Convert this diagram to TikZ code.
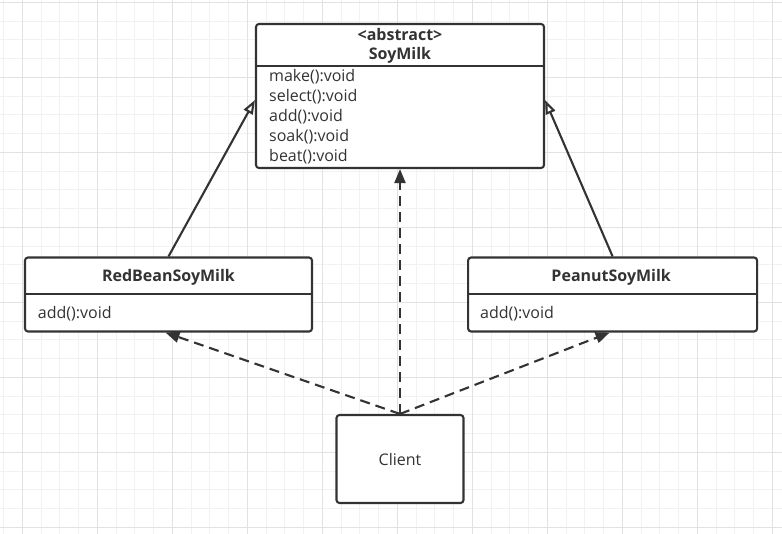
\documentclass[tikz,border=0pt]{standalone}
\usepackage{fontspec}
\setmainfont{Open Sans}
\usepackage{tikz}
\usetikzlibrary{arrows.meta}
\usetikzlibrary{positioning}
\definecolor{ink}{HTML}{333333}
\definecolor{minorgrid}{HTML}{F2F2F2}
\definecolor{majorgrid}{HTML}{E2E2E2}

\begin{document}
\begin{tikzpicture}[x=1pt, y=1pt, font=\fontsize{16}{20}\selectfont, text=ink]
	\tikzstyle{cls}=[rectangle, rounded corners=3pt, line width=2.1pt, draw=ink, fill=white, inner sep=0pt]
	\tikzstyle{title}=[font=\fontsize{16}{19.3}\selectfont\bfseries, align=center, inner sep=0pt]
	\tikzstyle{members}=[anchor=west, align=left, inner sep=0pt]
	\tikzstyle{inherit}=[-{Triangle[open, length=14pt, width=10pt]}, line width=2.1pt, draw=ink, fill=white]
	\tikzstyle{depend}=[-{Triangle[length=14pt, width=11pt]}, line width=2.1pt, draw=ink, dash pattern=on 10pt off 6pt]
	
	\useasboundingbox[fill=white] (0,0) rectangle (782,-534);
	\draw[minorgrid, line width=1pt, step=18.75, shift={(3.55,-2.3)}] (-3.55,2.3) grid (778.45,-531.7);
	\draw[majorgrid, line width=1pt, step=75, shift={(22.3,-2.3)}] (-22.3,2.3) grid (759.7,-531.7);
	
	\node[cls, minimum width=288pt, minimum height=144pt] (soy) at (400,-96) {};
	\node[title] (soytitle) at (400,-45.5) {<abstract>\\SoyMilk};
	\node[members] (soyops) at (269,-116.7) {make():void\\select():void\\add():void\\soak():void\\beat():void};
	\coordinate (soysep) at (400,-66);
	
	\node[cls, minimum width=287pt, minimum height=74pt] (red) at (168.5,-294.5) {};
	\node[title] (redtitle) at (168.5,-277.3) {RedBeanSoyMilk};
	\node[members] (redops) at (37.7,-313.3) {add():void};
	\coordinate (redsep) at (168.5,-294.3);
	
	\node[cls, minimum width=289pt, minimum height=74pt] (peanut) [right=154pt of red] {};
	\node[title] (peanuttitle) at (611.2,-277.3) {PeanutSoyMilk};
	\node[members] (peanutops) at (480,-313.3) {add():void};
	\coordinate (peanutsep) at (611.2,-294.3);
	
	\node[cls, minimum width=127pt, minimum height=88pt] (client) at (400,-459) {Client};
	
	\draw[ink, line width=2.1pt] (soy.west |- soysep) -- (soy.east |- soysep);
	\draw[ink, line width=2.1pt] (red.west |- redsep) -- (red.east |- redsep);
	\draw[ink, line width=2.1pt] (peanut.west |- peanutsep) -- (peanut.east |- peanutsep);
	
	\path (red.north) edge [inherit] ([yshift=-4pt]soy.west)
	(peanut.north) edge [inherit] ([yshift=-4pt]soy.east)
	
	(client.north) edge [depend] (soy.south)
	(client.north) edge [depend] ([xshift=-3pt]red.south)
	(client.north) edge [depend] ([xshift=-3pt]peanut.south);
	
\end{tikzpicture}
\end{document}
